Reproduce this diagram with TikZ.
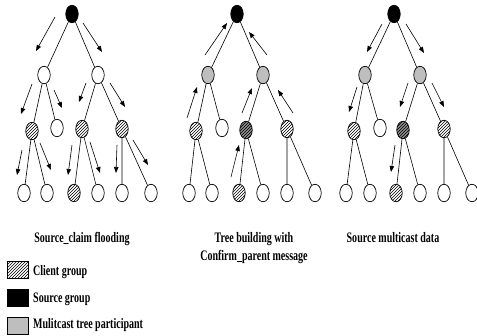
\documentclass[tikz,border=0pt]{standalone}
\usepackage{fontspec}
\usetikzlibrary{shapes.geometric,arrows.meta,patterns}
\newfontfamily\labfont{Liberation Serif}[FakeStretch=0.69]
\definecolor{lightg}{RGB}{190,190,190}
\definecolor{darkg}{RGB}{140,140,140}
\tikzset{
  nd/.style={ellipse,draw,line width=0.7pt,minimum width=12.5pt,minimum height=17.5pt,inner sep=0pt,fill=white},
  wh/.style={nd},
  src/.style={nd,fill=black},
  par/.style={nd,fill=lightg},
  cli/.style={nd,pattern=north east lines},
  clidark/.style={nd,preaction={fill=darkg},pattern=north east lines},
  ed/.style={line width=0.6pt},
  arr/.style={line width=0.6pt,-{Triangle[length=6pt,width=4.5pt]}},
  lab/.style={font=\labfont\bfseries\fontsize{14.5}{17}\selectfont,inner sep=0pt},
  legbox/.style={draw,line width=0.6pt,minimum width=21pt,minimum height=17pt,inner sep=0pt}
}
\begin{document}
\begin{tikzpicture}[x=1pt,y=-1pt]
\useasboundingbox (0,0) rectangle (477,335);
% ---------- Tree 1 ----------
\node[src] (a0) at (72,14) {};
\node[wh] (a1) at (44,75) {};
\node[wh] (a2) at (98,75) {};
\node[cli] (a3) at (32,131) {};
\node[wh] (a4) at (57,128) {};
\node[cli] (a5) at (82,129) {};
\node[cli] (a6) at (122,129) {};
\node[wh] (a7) at (24,193) {};
\node[wh] (a8) at (47,193) {};
\node[cli] (a9) at (74,193) {};
\node[wh] (a10) at (98,193) {};
\node[wh] (a11) at (122,193) {};
\node[wh] (a12) at (151,193) {};
\draw[ed] (a0)--(a1) (a0)--(a2) (a1)--(a3) (a1)--(a4) (a2)--(a5) (a2)--(a6)
  (a3)--(a7) (a3)--(a8) (a5)--(a9) (a5)--(a10) (a6)--(a11) (a6)--(a12);
\coordinate (p1s) at (55,17);  \coordinate (p1e) at (36,51);
\coordinate (p2s) at (83,23);  \coordinate (p2e) at (102,52);
\coordinate (p3s) at (32,84);  \coordinate (p3e) at (21,114);
\coordinate (p4s) at (54,90);  \coordinate (p4e) at (62,108);
\coordinate (p5s) at (86,83);  \coordinate (p5e) at (79,102);
\coordinate (p6s) at (110,83); \coordinate (p6e) at (125,107);
\coordinate (p7s) at (22,150); \coordinate (p7e) at (17,175);
\coordinate (p8s) at (40,143); \coordinate (p8e) at (51,170);
\coordinate (p9s) at (72,145); \coordinate (p9e) at (68,175);
\coordinate (p10s) at (90,142); \coordinate (p10e) at (100,173);
\coordinate (p11s) at (117,145); \coordinate (p11e) at (116,173);
\coordinate (p12s) at (133,140); \coordinate (p12e) at (148,165);
\foreach \i in {1,...,12} \draw[arr] (p\i s)--(p\i e);
% ---------- Tree 2 ----------
\node[src] (b0) at (237,14) {};
\node[par] (b1) at (208,75) {};
\node[par] (b2) at (263,75) {};
\node[cli] (b3) at (196,131) {};
\node[wh] (b4) at (222,128) {};
\node[clidark] (b5) at (246,130) {};
\node[cli] (b6) at (287,129) {};
\node[wh] (b7) at (189,193) {};
\node[wh] (b8) at (212,193) {};
\node[cli] (b9) at (239,193) {};
\node[wh] (b10) at (263,193) {};
\node[wh] (b11) at (287,193) {};
\node[wh] (b12) at (315,193) {};
\draw[ed] (b0)--(b1) (b0)--(b2) (b1)--(b3) (b1)--(b4) (b2)--(b5) (b2)--(b6)
  (b3)--(b7) (b3)--(b8) (b5)--(b9) (b5)--(b10) (b6)--(b11) (b6)--(b12);
\coordinate (q1s) at (205,55);  \coordinate (q1e) at (227,23);
\coordinate (q2s) at (267,55);  \coordinate (q2e) at (249,32);
\coordinate (q3s) at (187,118); \coordinate (q3e) at (197,87);
\coordinate (q4s) at (242,113); \coordinate (q4e) at (252,88);
\coordinate (q5s) at (293,113); \coordinate (q5e) at (278,90);
\coordinate (q6s) at (231,177); \coordinate (q6e) at (239,145);
\foreach \i in {1,...,6} \draw[arr] (q\i s)--(q\i e);
% ---------- Tree 3 ----------
\node[src] (c0) at (394,14) {};
\node[par] (c1) at (365,75) {};
\node[par] (c2) at (420,75) {};
\node[cli] (c3) at (354,131) {};
\node[wh] (c4) at (380,128) {};
\node[clidark] (c5) at (403,130) {};
\node[cli] (c6) at (444,129) {};
\node[wh] (c7) at (346,193) {};
\node[wh] (c8) at (370,193) {};
\node[cli] (c9) at (396,193) {};
\node[wh] (c10) at (420,193) {};
\node[wh] (c11) at (444,193) {};
\node[wh] (c12) at (472,193) {};
\draw[ed] (c0)--(c1) (c0)--(c2) (c1)--(c3) (c1)--(c4) (c2)--(c5) (c2)--(c6)
  (c3)--(c7) (c3)--(c8) (c5)--(c9) (c5)--(c10) (c6)--(c11) (c6)--(c12);
\coordinate (r1s) at (382,24);  \coordinate (r1e) at (367,52);
\coordinate (r2s) at (406,24);  \coordinate (r2e) at (424,53);
\coordinate (r3s) at (357,87);  \coordinate (r3e) at (349,112);
\coordinate (r4s) at (408,83);  \coordinate (r4e) at (400,107);
\coordinate (r5s) at (432,83);  \coordinate (r5e) at (444,107);
\coordinate (r6s) at (395,145); \coordinate (r6e) at (391,172);
\foreach \i in {1,...,6} \draw[arr] (r\i s)--(r\i e);
% ---------- Captions ----------
\node[lab,anchor=base] (t1) at (82,242) {Source\_claim flooding};
\node[lab,anchor=base] (t2a) at (254,242) {Tree building with};
\node[lab,anchor=base] (t2b) at (254,260) {Confirm\_parent message};
\node[lab,anchor=base] (t3) at (393,242) {Source multicast data};
% ---------- Legend ----------
\node[legbox,pattern=north east lines] (l1) at (17.5,270) {};
\node[legbox,fill=black] (l2) at (17.5,298) {};
\node[legbox,fill=lightg] (l3) at (17.5,326) {};
\node[lab,anchor=base west] (lt1) at (33,275) {Client group};
\node[lab,anchor=base west] (lt2) at (33,302) {Source group};
\node[lab,anchor=base west] (lt3) at (33,328) {Mulitcast tree participant};
\end{tikzpicture}
\end{document}
